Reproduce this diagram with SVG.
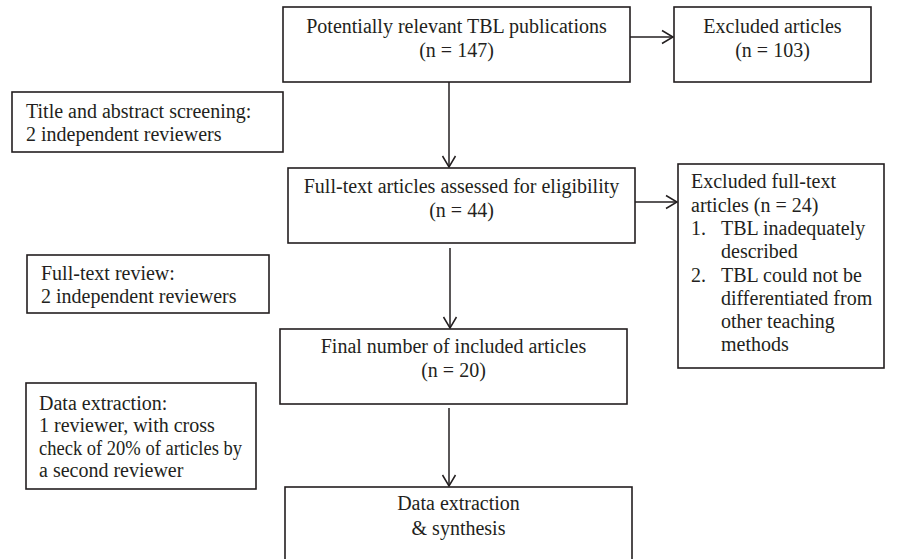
<svg xmlns="http://www.w3.org/2000/svg" width="909" height="559" viewBox="0 0 909 559">
<style>
.box{fill:#ffffff;stroke:#231f20;stroke-width:1.6}
.t{font-family:"Liberation Serif","Times New Roman",serif;font-size:20px;fill:#231f20}
.c{text-anchor:middle}
.ln{fill:none;stroke:#231f20;stroke-width:1.5}
</style>
<defs>
<marker id="arr" markerUnits="userSpaceOnUse" markerWidth="14" markerHeight="16" viewBox="0 0 14 16" refX="12" refY="8" orient="auto">
<path d="M1,1.5 L12,8 L1,14.5" fill="none" stroke="#231f20" stroke-width="1.5"/>
</marker>
</defs>
<rect width="909" height="559" fill="#ffffff"/>
<g id="connectors">
<line class="ln" x1="630" y1="37" x2="673" y2="37" marker-end="url(#arr)"/>
<line class="ln" x1="449" y1="82" x2="449" y2="167" marker-end="url(#arr)"/>
<line class="ln" x1="635" y1="202" x2="677" y2="202" marker-end="url(#arr)"/>
<line class="ln" x1="450" y1="248" x2="450" y2="328" marker-end="url(#arr)"/>
<line class="ln" x1="449" y1="408" x2="449" y2="486" marker-end="url(#arr)"/>
</g>
<g id="n_potential">
<rect class="box" x="283" y="7" width="347" height="75"/>
<text class="t c" x="456.5" y="33">Potentially relevant TBL publications</text>
<text class="t c" x="456.5" y="57">(n = 147)</text>
</g>
<g id="n_excluded">
<rect class="box" x="674" y="7" width="197" height="75"/>
<text class="t c" x="772.5" y="33">Excluded articles</text>
<text class="t c" x="772.5" y="57">(n = 103)</text>
</g>
<g id="n_title_screen">
<rect class="box" x="12" y="92" width="271" height="60"/>
<text class="t" x="26" y="118">Title and abstract screening:</text>
<text class="t" x="26" y="141">2 independent reviewers</text>
</g>
<g id="n_fulltext">
<rect class="box" x="288" y="168" width="347" height="75"/>
<text class="t c" x="461.5" y="193">Full-text articles assessed for eligibility</text>
<text class="t c" x="461.5" y="217">(n = 44)</text>
</g>
<g id="n_excluded_full">
<rect class="box" x="678" y="164" width="206" height="204"/>
<text class="t" x="691" y="188">Excluded full-text</text>
<text class="t" x="691" y="212">articles (n = 24)</text>
<text class="t" x="691" y="235">1.</text>
<text class="t" x="721" y="235">TBL inadequately</text>
<text class="t" x="721" y="258">described</text>
<text class="t" x="691" y="282">2.</text>
<text class="t" x="721" y="282">TBL could not be</text>
<text class="t" x="721" y="305">differentiated from</text>
<text class="t" x="721" y="328">other teaching</text>
<text class="t" x="721" y="351">methods</text>
</g>
<g id="n_fulltext_review">
<rect class="box" x="27" y="255" width="242" height="58"/>
<text class="t" x="41" y="280">Full-text review:</text>
<text class="t" x="41" y="303">2 independent reviewers</text>
</g>
<g id="n_final">
<rect class="box" x="280" y="329" width="347" height="75"/>
<text class="t c" x="453.5" y="353">Final number of included articles</text>
<text class="t c" x="453.5" y="377">(n = 20)</text>
</g>
<g id="n_data_extraction_note">
<rect class="box" x="26" y="383" width="230" height="106"/>
<text class="t" x="39" y="410">Data extraction:</text>
<text class="t" x="39" y="432">1 reviewer, with cross</text>
<text class="t" x="39" y="455" textLength="203" lengthAdjust="spacingAndGlyphs">check of 20% of articles by</text>
<text class="t" x="39" y="477">a second reviewer</text>
</g>
<g id="n_synthesis">
<rect class="box" x="285" y="487" width="347" height="90"/>
<text class="t c" x="458.5" y="510">Data extraction</text>
<text class="t c" x="458.5" y="535">&amp; synthesis</text>
</g>
</svg>
